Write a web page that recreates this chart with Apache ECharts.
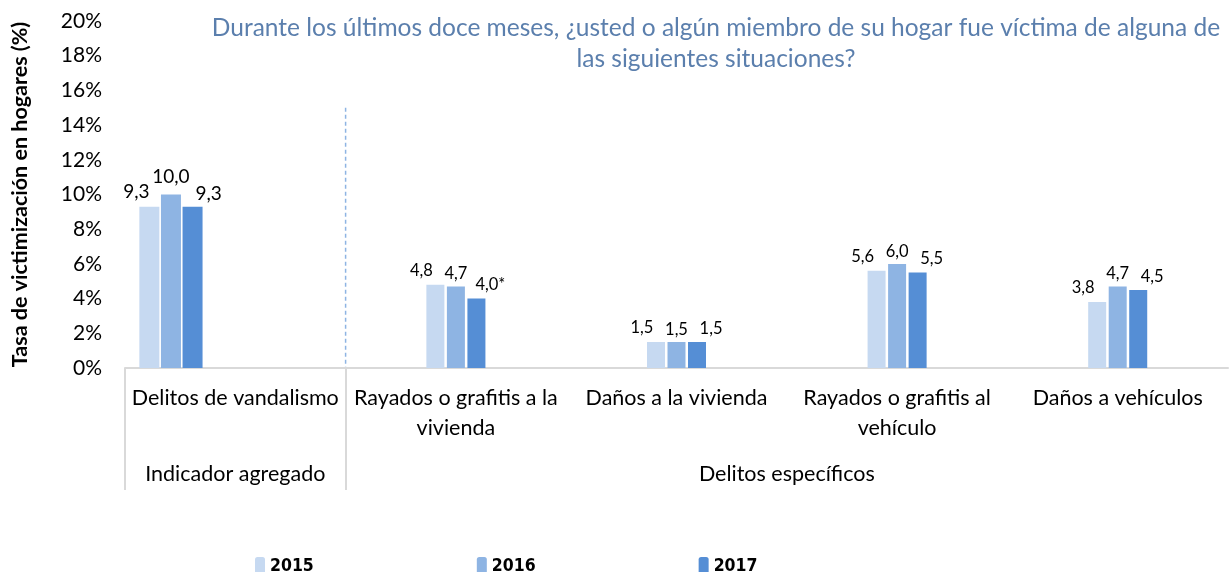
<!DOCTYPE html>
<html style="height:100%">
<head>
    <meta charset="utf-8">
    <title>Vandalismo</title>
    <script src="https://cdn.jsdelivr.net/npm/echarts@6/dist/echarts.min.js"></script>
</head>
<body style="height:100%;width:100%;margin:0;background:#fff;">
    <div id="main" style="width:1231px;height:572px;margin:0"></div>
    <script type="text/javascript">
        // data
        var categories = ['Delitos de vandalismo', 'Rayados o grafitis a la\nvivienda', 'Daños a la vivienda',
            'Rayados o grafitis al\nvehículo', 'Daños a vehículos'];
        var groups = ['Indicador agregado', 'Delitos específicos'];
        var years = ['2015', '2016', '2017'];
        var values2015 = [9.3, 4.8, 1.5, 5.6, 3.8];
        var values2016 = [10.0, 4.7, 1.5, 6.0, 4.7];
        var values2017 = [9.3, 4.0, 1.5, 5.5, 4.5];
        var notes2017 = ['', '*', '', '', ''];
        var yTicks = [0, 2, 4, 6, 8, 10, 12, 14, 16, 18, 20];

        var colors = ['#C6D9F1', '#8EB4E3', '#558ED5'];
        var font = 'Lato, "Noto Sans", sans-serif';
        var allValues = [values2015, values2016, values2017];
        var allNotes = [null, null, notes2017];
        var aggOffsets = [[-13, 0], [0, -3], [16, 2]];
        var labelOffsets = [[-14, 0], [0, 2], [14, 1]];

        function fmt(v, note) {
            return v.toFixed(1).replace('.', ',') + (note || '');
        }

        // first category (aggregate) sits on a finer hidden axis so it lands left of centre
        var aggCats = [];
        for (var i = 0; i < 12; i++) aggCats.push(i === 0 ? categories[0] : '');
        // group axis: 11 points on band edges, labels at middle of each group
        var groupCats = [];
        for (var j = 0; j <= 10; j++) groupCats.push(j === 1 ? groups[0] : (j === 6 ? groups[1] : ''));

        var series = [];
        years.forEach(function (y, k) {
            series.push({
                name: y,
                type: 'bar',
                xAxisIndex: 1,
                barWidth: 20,
                barGap: '8%',
                itemStyle: { color: colors[k] },
                label: {
                    show: true, position: 'top', distance: 5, offset: aggOffsets[k],
                    fontFamily: font, fontSize: 19, color: '#000',
                    formatter: function (p) { return fmt(p.value, allNotes[k] && allNotes[k][0]); }
                },
                data: aggCats.map(function (c, i) { return i === 0 ? allValues[k][0] : '-'; })
            });
            series.push({
                name: y,
                type: 'bar',
                xAxisIndex: 0,
                barWidth: 18,
                barGap: '14%',
                itemStyle: { color: colors[k] },
                label: {
                    show: true, position: 'top', distance: 6, offset: labelOffsets[k],
                    fontFamily: font, fontSize: 16.5, color: '#000',
                    formatter: function (p) { return fmt(p.value, allNotes[k] && allNotes[k][p.dataIndex]); }
                },
                data: allValues[k].map(function (v, i) { return i === 0 ? '-' : v; })
            });
        });

        var chart = echarts.init(document.getElementById('main'));
        chart.setOption({
            animation: false,
            textStyle: { fontFamily: font },
            title: {
                text: 'Durante los últimos doce meses, ¿usted o algún miembro de su hogar fue víctima de alguna de\nlas siguientes situaciones?',
                left: 711,
                top: 8,
                textAlign: 'center',
                textStyle: { fontFamily: font, fontSize: 24.5, fontWeight: 'normal', color: '#5B7FAD', lineHeight: 31 }
            },
            legend: {
                data: years,
                left: 250,
                top: 552,
                itemWidth: 10,
                itemHeight: 18,
                itemGap: 163,
                textStyle: {
                    fontFamily: '"Liberation Sans Narrow", "DejaVu Sans Condensed", sans-serif',
                    fontSize: 17.5, fontWeight: 'bold', color: '#000'
                }
            },
            grid: { left: 125, right: 1, top: 21, bottom: 204, containLabel: false },
            xAxis: [
                {
                    type: 'category',
                    data: categories,
                    axisLine: { lineStyle: { color: '#D9D9D9', width: 2 } },
                    axisTick: { show: false },
                    axisLabel: {
                        interval: 0, margin: 15, color: '#000', fontFamily: font, fontSize: 21.5, lineHeight: 30
                    }
                },
                {
                    type: 'category',
                    data: aggCats,
                    show: false
                },
                {
                    type: 'category',
                    data: groupCats,
                    boundaryGap: false,
                    position: 'bottom',
                    axisLine: { show: false },
                    axisTick: {
                        show: true, length: 122,
                        interval: function (i) { return i === 0 || i === 2; },
                        lineStyle: { color: '#D9D9D9', width: 2 }
                    },
                    axisLabel: {
                        interval: 0, margin: 95, color: '#000', fontFamily: font, fontSize: 21.5
                    }
                }
            ],
            yAxis: {
                type: 'value',
                min: 0,
                max: yTicks[yTicks.length - 1],
                interval: 2,
                name: 'Tasa de victimización en hogares (%)',
                nameLocation: 'middle',
                nameRotate: 90,
                nameGap: 94,
                nameTextStyle: { fontFamily: font, fontSize: 21.5, fontWeight: 'bold', color: '#000' },
                axisLine: { show: false },
                axisTick: { show: false },
                splitLine: { show: false },
                axisLabel: {
                    margin: 23, color: '#000', fontFamily: font, fontSize: 21,
                    formatter: function (v) { return v + '%'; }
                }
            },
            series: series
        });

        // dashed separator between aggregate and specific groups
        var sx = chart.convertToPixel({ xAxisIndex: 2 }, 2);
        var sTop = chart.convertToPixel({ yAxisIndex: 0 }, 15);
        var sBot = chart.convertToPixel({ yAxisIndex: 0 }, 0);
        chart.setOption({
            graphic: [{
                type: 'line',
                shape: { x1: sx, y1: sTop, x2: sx, y2: sBot },
                style: { stroke: '#8EB4E3', lineWidth: 1.5, lineDash: [4, 3] }
            }]
        });
    </script>
</body>
</html>
